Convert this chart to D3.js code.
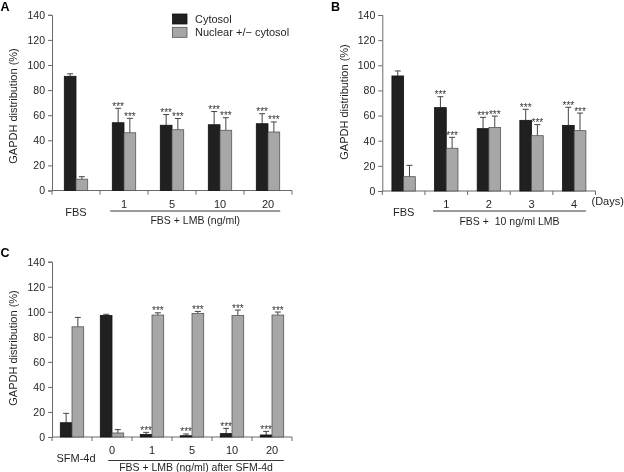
<!DOCTYPE html>
<html><head><meta charset="utf-8">
<script src="https://cdn.jsdelivr.net/npm/d3@7"></script>
<style>
html,body{margin:0;padding:0;background:#fff;}
svg{display:block;font-family:"Liberation Sans",Arial,Helvetica,sans-serif;filter:grayscale(1);}
</style></head>
<body>
<svg id="chart" width="624" height="472"></svg>
<script>
// ---------- DATA ----------
const yTicks = [0, 20, 40, 60, 80, 100, 120, 140];
const seriesNames = ["Cytosol", "Nuclear +/\u2212 cytosol"];

const categoriesA = ["FBS", "1", "5", "10", "20"];
const cytosolA = [91, 54, 52, 52.4, 53.2];
const cytosolErrA = [2, 11.5, 8.5, 10.5, 8];
const nuclearA = [9, 46, 48.4, 48, 46.6];
const nuclearErrA = [2, 11.5, 9, 10, 8];
const sigCytosolA = [false, true, true, true, true];
const sigNuclearA = [false, true, true, true, true];

const categoriesB = ["FBS", "1", "2", "3", "4"];
const cytosolB = [91.5, 66.3, 49.6, 56.2, 52.2];
const cytosolErrB = [4, 8.7, 9, 8.8, 14.4];
const nuclearB = [11.4, 34, 50.6, 44, 48];
const nuclearErrB = [9, 8.7, 9, 8.8, 14];
const sigCytosolB = [false, true, true, true, true];
const sigNuclearB = [false, true, true, true, true];

const categoriesC = ["SFM-4d", "0", "1", "5", "10", "20"];
const cytosolC = [11.4, 97.1, 2.1, 1, 2.7, 1.6];
const cytosolErrC = [7.5, 0.9, 1.6, 1.4, 4.2, 2.9];
const nuclearC = [88, 3.2, 97.4, 98.7, 97.1, 97.4];
const nuclearErrC = [7.5, 2.7, 1.8, 1.6, 4.3, 2.4];
const sigCytosolC = [false, false, true, true, true, true];
const sigNuclearC = [false, false, true, true, true, true];

const groupLabelA = "FBS + LMB (ng/ml)";
const groupLabelB = "FBS +  10 ng/ml LMB";
const groupLabelC = "FBS + LMB (ng/ml) after SFM-4d";
const yTitle = "GAPDH distribution (%)";

// ---------- STYLE ----------
const colCyt = "#231f20", colNuc = "#a7a7a7", strokeNuc = "#555";
const axisCol = "#6b6b6b", textCol = "#231f20";
const barW = 11.7;

const svg = d3.select("#chart");

function panel(cfg) {
  const g = svg.append("g");
  const y = d3.scaleLinear().domain([0, 140]).range([cfg.y0, cfg.yTop]);
  const x = d3.scaleBand().domain(cfg.cats).range([cfg.x0, cfg.x1]).padding(0);
  const bw = x.bandwidth();
  const xs = d3.scaleBand().domain([0, 1]).range([(bw - 2 * barW) / 2, (bw + 2 * barW) / 2]);

  // y axis
  const ya = d3.axisLeft(y).tickValues(yTicks).tickSizeOuter(0).tickSize(4).tickPadding(3);
  const yg = g.append("g").attr("transform", `translate(${cfg.x0},0)`).call(ya);
  yg.select(".domain").attr("stroke", axisCol);
  yg.selectAll(".tick line").attr("stroke", axisCol);
  yg.selectAll(".tick text").attr("fill", textCol).style("font-size", "10.5px").attr("font-family", null);

  // x axis line + boundary ticks
  g.append("line").attr("x1", cfg.x0).attr("x2", cfg.x1).attr("y1", cfg.y0).attr("y2", cfg.y0).attr("stroke", axisCol);
  const bounds = cfg.cats.map(c => x(c)).concat([cfg.x1]);
  g.selectAll(".xt").data(bounds).join("line")
    .attr("x1", d => d).attr("x2", d => d).attr("y1", cfg.y0).attr("y2", cfg.y0 + 4).attr("stroke", axisCol);

  const starLayer = g.append("g");
  const series = [
    {vals: cfg.cyt, errs: cfg.cytErr, sig: cfg.sigCyt, fill: colCyt, stroke: "#111"},
    {vals: cfg.nuc, errs: cfg.nucErr, sig: cfg.sigNuc, fill: colNuc, stroke: strokeNuc}
  ];
  series.forEach((s, si) => {
    const data = cfg.cats.map((c, i) => ({c, v: s.vals[i], e: s.errs[i], sig: s.sig[i]}));
    const cx = d => x(d.c) + xs(si) + xs.bandwidth() / 2;
    // error bars
    g.selectAll(null).data(data).join("line")
      .attr("x1", cx).attr("x2", cx).attr("y1", d => y(d.v)).attr("y2", d => y(d.v + d.e))
      .attr("stroke", "#444").attr("stroke-width", 1);
    g.selectAll(null).data(data).join("line")
      .attr("x1", d => cx(d) - 3).attr("x2", d => cx(d) + 3).attr("y1", d => y(d.v + d.e)).attr("y2", d => y(d.v + d.e))
      .attr("stroke", "#444").attr("stroke-width", 1);
    // bars
    g.selectAll(null).data(data).join("rect")
      .attr("x", d => x(d.c) + xs(si)).attr("width", xs.bandwidth())
      .attr("y", d => y(d.v)).attr("height", d => y(0) - y(d.v))
      .attr("fill", s.fill).attr("stroke", s.stroke).attr("stroke-width", 0.8);
    // significance stars
    starLayer.selectAll(null).data(data.filter(d => d.sig)).join("text")
      .attr("x", cx).attr("y", d => y(d.v + d.e) + 1.5)
      .attr("text-anchor", "middle").attr("fill", "#333").style("font-size", "10px")
      .text("***");
  });
  g.node().appendChild(starLayer.node());

  // category labels
  g.selectAll(null).data(cfg.cats).join("text")
    .attr("x", (d) => x(d) + bw / 2 + (d === cfg.cats[0] ? cfg.firstDx : 0))
    .attr("y", (d) => d === cfg.cats[0] ? cfg.y0 + 25 : cfg.y0 + 17)
    .attr("text-anchor", "middle").attr("fill", textCol).style("font-size", "11px")
    .text(d => d);
  // underline
  const c1 = cfg.cats[1], cl = cfg.cats[cfg.cats.length - 1];
  const ux1 = x(c1) + xs(0) + cfg.ulL, ux2 = x(cl) + xs(1) + xs.bandwidth() + cfg.ulR;
  g.append("line").attr("x1", ux1).attr("x2", ux2).attr("y1", cfg.y0 + cfg.ulY).attr("y2", cfg.y0 + cfg.ulY)
    .attr("stroke", textCol).attr("stroke-width", 0.9);
  g.append("text").attr("x", (ux1 + ux2) / 2).attr("y", cfg.y0 + cfg.glY)
    .attr("text-anchor", "middle").attr("fill", textCol).style("font-size", "10.5px")
    .attr("xml:space", "preserve").style("white-space", "pre")
    .text(cfg.groupLabel);

  // y title
  g.append("text").attr("transform", `translate(${cfg.titleX},${cfg.titleY}) rotate(-90)`)
    .attr("text-anchor", "middle").attr("fill", textCol).style("font-size", "11px").text(yTitle);
  // panel letter
  g.append("text").attr("x", cfg.letterX).attr("y", cfg.letterY).attr("fill", "#000")
    .style("font-size", "12.5px").style("font-weight", "bold").text(cfg.letter);
  return {g, x, y, xs};
}

panel({cats: categoriesA, cyt: cytosolA, cytErr: cytosolErrA, nuc: nuclearA, nucErr: nuclearErrA,
  sigCyt: sigCytosolA, sigNuc: sigNuclearA, x0: 52, x1: 292, y0: 190.5, yTop: 14.8,
  groupLabel: groupLabelA, ulL: -2, ulR: 0.5, ulY: 20.5, glY: 33.5, firstDx: 0,
  titleX: 17, titleY: 106, letter: "A", letterX: 0.5, letterY: 11});

panel({cats: categoriesB, cyt: cytosolB, cytErr: cytosolErrB, nuc: nuclearB, nucErr: nuclearErrB,
  sigCyt: sigCytosolB, sigNuc: sigNuclearB, x0: 382.3, x1: 595.5, y0: 191, yTop: 15,
  groupLabel: groupLabelB, ulL: -1.5, ulR: 0, ulY: 20, glY: 33.5, firstDx: 0,
  titleX: 348, titleY: 102, letter: "B", letterX: 331, letterY: 11});

panel({cats: categoriesC, cyt: cytosolC, cytErr: cytosolErrC, nuc: nuclearC, nucErr: nuclearErrC,
  sigCyt: sigCytosolC, sigNuc: sigNuclearC, x0: 52, x1: 292, y0: 437, yTop: 261.7,
  groupLabel: groupLabelC, ulL: 8, ulR: 0, ulY: 23.5, glY: 34, firstDx: 4,
  titleX: 17, titleY: 348, letter: "C", letterX: 0.5, letterY: 257});

// "(Days)" label for panel B
svg.append("text").attr("x", 591.5).attr("y", 204.5).attr("fill", textCol).style("font-size", "11px").text("(Days)");

// legend (panel A)
const legend = svg.append("g");
seriesNames.forEach((n, i) => {
  legend.append("rect").attr("x", 172.5).attr("y", 14 + i * 13.3).attr("width", 14.5).attr("height", 10)
    .attr("fill", i === 0 ? colCyt : colNuc).attr("stroke", i === 0 ? "#111" : strokeNuc).attr("stroke-width", 0.8);
  legend.append("text").attr("x", 195).attr("y", 23 + i * 13.3).attr("fill", textCol)
    .style("font-size", "11px").text(n);
});
</script>
</body></html>
